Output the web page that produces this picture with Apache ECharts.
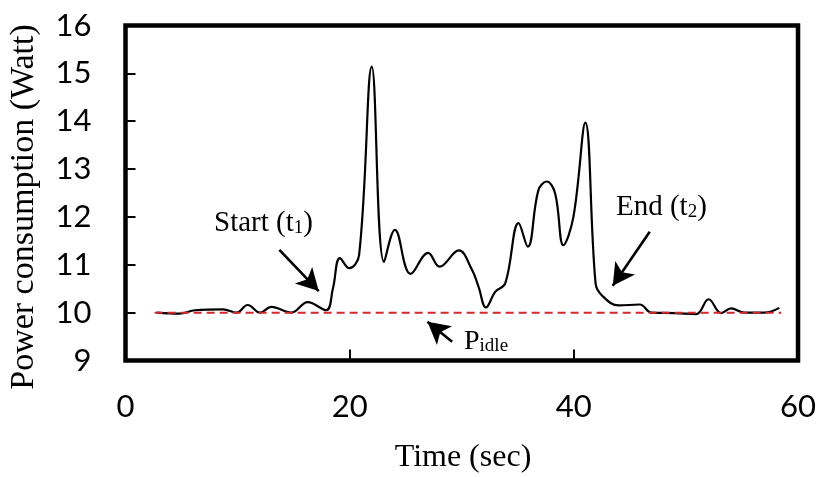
<!DOCTYPE html>
<html><head><meta charset="utf-8">
<script src="https://cdn.jsdelivr.net/npm/echarts@6/dist/echarts.min.js"></script>
<style>html,body{margin:0;padding:0;background:#fff}#c{width:819px;height:477px}</style>
</head><body><div id="c"></div>
<script>
// ---- data ----
const timeSec = [2.8, 4.8, 6.2, 8.7, 9.9, 10.9, 12.0, 13.0, 14.8, 16.25, 17.9, 18.5, 19.13, 19.96, 20.84, 21.97, 23.07, 24.04, 25.44, 27.0, 28.02, 29.73, 30.9, 31.5, 32.16, 33.0, 33.88, 35.07, 35.89, 36.84, 37.58, 38.33, 39.07, 39.96, 41.02, 41.94, 42.47, 44.0, 45.88, 46.92, 49.0, 50.92, 52.02, 53.14, 54.03, 55.22, 57.0, 58.33];
const powerWatt = [10.0, 9.98, 10.05, 10.07, 10.0, 10.16, 10.0, 10.12, 10.0, 10.22, 10.05, 10.5, 11.14, 10.93, 11.2, 15.14, 11.06, 11.73, 10.81, 11.25, 10.96, 11.3, 10.9, 10.54, 10.11, 10.44, 10.61, 11.87, 11.38, 12.56, 12.74, 12.49, 11.41, 12.0, 13.97, 10.61, 10.37, 10.15, 10.17, 10.0, 9.99, 9.97, 10.28, 9.99, 10.09, 10.0, 10.0, 10.1];
const idleTime = [2.6, 58.5];
const idlePower = [10, 10];
const xTickLabels = ['0', '20', '40', '60'];
const yTickLabels = ['9', '10', '11', '12', '13', '14', '15', '16'];
// arrows: [fromTime, fromPower, toTime, toPower]
const arrowStart = [13.73, 11.31, 17.24, 10.45];
const arrowEnd = [46.77, 11.69, 43.47, 10.56];
const arrowIdle = [29.14, 9.39, 26.94, 9.81];

const lineData = timeSec.map((t, i) => [t, powerWatt[i]]);
const idleData = idleTime.map((t, i) => [t, idlePower[i]]);
const mkArrow = a => [{coord: [a[0], a[1]]}, {coord: [a[2], a[3]]}];

const chart = echarts.init(document.getElementById('c'));
const serif = '"Liberation Serif", "Times New Roman", serif';
const tickFont = 'Lato, "Open Sans", sans-serif';

chart.setOption({
  animation: false,
  backgroundColor: '#fff',
  grid: {left: 125.5, right: 18.5, top: 25.5, bottom: 116.5, show: true, borderColor: '#000', borderWidth: 4.5, backgroundColor: 'transparent'},
  xAxis: {
    type: 'value', min: 0, max: 60, interval: 20,
    axisLine: {show: false},
    axisTick: {show: true, inside: true, length: 11, lineStyle: {color: '#000', width: 2}},
    splitLine: {show: false},
    axisLabel: {margin: 31, color: '#000', fontSize: 31, fontFamily: tickFont,
      formatter: v => xTickLabels[Math.round(v / 20)]}
  },
  yAxis: {
    type: 'value', min: 9, max: 16, interval: 1,
    axisLine: {show: false},
    axisTick: {show: true, inside: true, length: 10, lineStyle: {color: '#000', width: 2}},
    splitLine: {show: false},
    axisLabel: {margin: 34, color: '#000', fontSize: 31, fontFamily: tickFont,
      formatter: v => yTickLabels[Math.round(v - 9)]}
  },
  series: [
    {
      type: 'line', data: lineData, smooth: 0.4, symbol: 'none',
      lineStyle: {color: '#000', width: 2.2}, z: 2,
      markLine: {
        silent: true, symbol: ['none', 'arrow'], symbolSize: [18, 22],
        lineStyle: {color: '#000', width: 2.6, type: 'solid'},
        label: {show: false}, emphasis: {disabled: true},
        data: [mkArrow(arrowStart), mkArrow(arrowEnd), mkArrow(arrowIdle)]
      }
    },
    {
      type: 'line', data: idleData, symbol: 'none', z: 3,
      lineStyle: {color: '#d02a30', width: 2, type: [8, 5]}
    }
  ],
  graphic: [
    {type: 'text', x: 24, y: 207, rotation: Math.PI / 2,
      style: {text: 'Power consumption (Watt)', fontSize: 34, fontFamily: serif, fill: '#000', align: 'center', verticalAlign: 'middle', textAlign: 'center', textVerticalAlign: 'middle'}},
    {type: 'text', x: 463, y: 458,
      style: {text: 'Time (sec)', fontSize: 32, fontFamily: serif, fill: '#000', align: 'center', verticalAlign: 'middle', textAlign: 'center', textVerticalAlign: 'middle'}},
    {type: 'text', x: 214, y: 223,
      style: {text: 'Start (t{s|1})', fontSize: 29, fontFamily: serif, fill: '#000', align: 'left', verticalAlign: 'middle', textAlign: 'left', textVerticalAlign: 'middle',
        rich: {s: {fontSize: 19, fontFamily: serif, fill: '#000', lineHeight: 17, verticalAlign: 'bottom'}}}},
    {type: 'text', x: 616, y: 207,
      style: {text: 'End (t{s|2})', fontSize: 29, fontFamily: serif, fill: '#000', align: 'left', verticalAlign: 'middle', textAlign: 'left', textVerticalAlign: 'middle',
        rich: {s: {fontSize: 19, fontFamily: serif, fill: '#000', lineHeight: 17, verticalAlign: 'bottom'}}}},
    {type: 'text', x: 464, y: 342,
      style: {text: 'P{s|idle}', fontSize: 28, fontFamily: serif, fill: '#000', align: 'left', verticalAlign: 'middle', textAlign: 'left', textVerticalAlign: 'middle',
        rich: {s: {fontSize: 19, fontFamily: serif, fill: '#000', lineHeight: 17, verticalAlign: 'bottom'}}}}
  ]
});
</script></body></html>
